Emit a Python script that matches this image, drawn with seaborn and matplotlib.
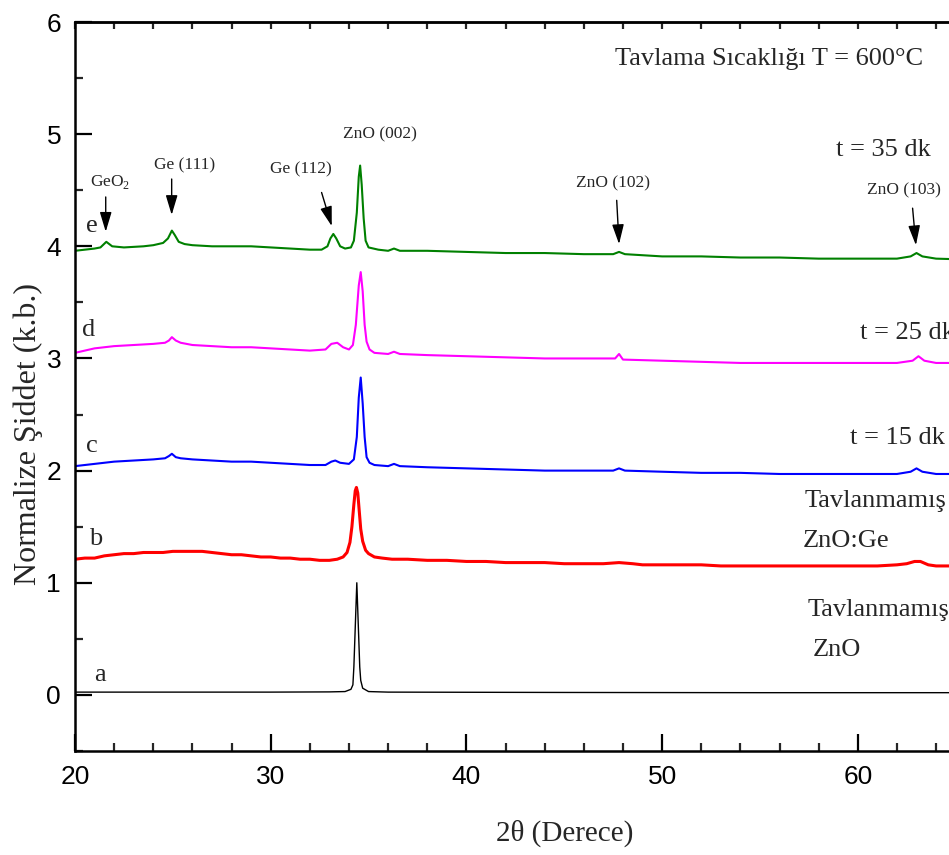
import matplotlib
matplotlib.use("Agg")
import matplotlib.pyplot as plt
import pandas as pd
import seaborn as sns
from matplotlib.ticker import MultipleLocator

# --- XRD patterns (normalized intensity, vertically offset) ---
# a: unannealed ZnO
tt_a = [20, 25, 30, 33, 33.8, 34.1, 34.2, 34.25, 34.32, 34.4, 34.48, 34.55, 34.6,
        34.7, 35.0, 36, 45, 55, 70]
int_a = [0.025, 0.025, 0.025, 0.027, 0.03, 0.05, 0.09, 0.25, 0.6, 1.0, 0.6, 0.25, 0.13,
         0.06, 0.03, 0.025, 0.022, 0.02, 0.02]

# b: unannealed ZnO:Ge
tt_b = [20, 20.5, 21, 21.5, 22, 22.5, 23, 23.5, 24, 24.5, 25, 25.5, 26, 26.5, 27, 27.5,
        28, 28.5, 29, 29.5, 30, 30.5, 31, 31.5, 32, 32.5, 33, 33.4, 33.7, 33.9, 34.05,
        34.15, 34.25, 34.32, 34.38, 34.45, 34.52, 34.6, 34.7, 34.85, 35.0, 35.3, 35.7,
        36.2, 37, 38, 39, 40, 41, 42, 43, 44, 45, 46, 47, 47.8, 48.5, 49, 50, 51, 52,
        53, 54, 55, 56, 57, 58, 59, 60, 61, 62, 62.5, 62.9, 63.2, 63.6, 64, 65, 67, 70]
int_b = [1.21, 1.22, 1.22, 1.24, 1.25, 1.26, 1.26, 1.27, 1.27, 1.27, 1.28, 1.28, 1.28,
         1.28, 1.27, 1.26, 1.25, 1.25, 1.24, 1.23, 1.23, 1.22, 1.22, 1.21, 1.21, 1.20,
         1.20, 1.21, 1.23, 1.27, 1.36, 1.50, 1.70, 1.82, 1.85, 1.80, 1.65, 1.48, 1.37,
         1.29, 1.26, 1.23, 1.22, 1.21, 1.21, 1.20, 1.20, 1.19, 1.19, 1.18, 1.18, 1.18,
         1.17, 1.17, 1.17, 1.18, 1.17, 1.16, 1.16, 1.16, 1.16, 1.15, 1.15, 1.15, 1.15,
         1.15, 1.15, 1.15, 1.15, 1.15, 1.16, 1.17, 1.19, 1.19, 1.16, 1.15, 1.15, 1.14, 1.14]

# c: annealed 15 min
tt_c = [20, 20.5, 21, 22, 23, 24, 24.6, 24.8, 24.95, 25.15, 25.4, 26, 27, 28, 29, 30,
        31, 32, 32.8, 33.1, 33.3, 33.55, 34.0, 34.25, 34.4, 34.5, 34.6, 34.7, 34.8,
        34.9, 35.05, 35.3, 36, 36.3, 36.6, 38, 40, 42, 44, 46, 47.5, 47.8, 48.1, 50,
        52, 54, 56, 58, 60, 62, 62.7, 63.0, 63.3, 64, 66, 70]
int_c = [2.04, 2.05, 2.06, 2.08, 2.09, 2.10, 2.11, 2.13, 2.15, 2.12, 2.11, 2.10, 2.09,
         2.08, 2.08, 2.07, 2.06, 2.05, 2.05, 2.08, 2.09, 2.07, 2.06, 2.10, 2.30, 2.65,
         2.83, 2.60, 2.30, 2.12, 2.07, 2.05, 2.04, 2.06, 2.04, 2.03, 2.02, 2.01, 2.00,
         2.00, 2.00, 2.02, 2.00, 1.99, 1.98, 1.98, 1.97, 1.97, 1.97, 1.97, 1.99, 2.02,
         1.99, 1.97, 1.97, 1.96]

# d: annealed 25 min
tt_d = [20, 20.5, 21, 22, 23, 24, 24.6, 24.8, 24.95, 25.15, 25.4, 26, 27, 28, 29, 30,
        31, 32, 32.8, 33.1, 33.4, 33.7, 34.0, 34.2, 34.35, 34.5, 34.6, 34.7, 34.8, 34.9,
        35.05, 35.3, 36, 36.3, 36.6, 38, 40, 42, 44, 46, 47.6, 47.8, 48.0, 50, 52, 54,
        56, 58, 60, 62, 62.8, 63.1, 63.4, 64, 66, 70]
int_d = [3.05, 3.07, 3.09, 3.11, 3.12, 3.13, 3.14, 3.16, 3.19, 3.16, 3.14, 3.12, 3.11,
         3.10, 3.10, 3.09, 3.08, 3.07, 3.08, 3.13, 3.14, 3.10, 3.08, 3.12, 3.30, 3.65,
         3.77, 3.60, 3.30, 3.15, 3.08, 3.05, 3.04, 3.06, 3.04, 3.03, 3.02, 3.01, 3.00,
         3.00, 3.00, 3.04, 2.99, 2.98, 2.97, 2.96, 2.96, 2.96, 2.96, 2.96, 2.98, 3.02,
         2.98, 2.96, 2.96, 2.95]

# e: annealed 35 min
tt_e = [20, 20.5, 21, 21.3, 21.6, 21.9, 22.5, 23.5, 24, 24.5, 24.75, 24.95, 25.1, 25.3,
        25.6, 26, 27, 28, 29, 30, 31, 32, 32.6, 32.9, 33.05, 33.2, 33.35, 33.55, 33.8,
        34.1, 34.25, 34.4, 34.5, 34.57, 34.65, 34.75, 34.85, 35.0, 35.5, 36, 36.3, 36.6,
        38, 40, 42, 44, 46, 47.5, 47.8, 48.1, 50, 52, 54, 56, 58, 60, 62, 62.7, 63.0,
        63.3, 64, 66, 70]
int_e = [3.96, 3.97, 3.98, 3.99, 4.04, 4.00, 3.99, 4.00, 4.01, 4.03, 4.07, 4.14, 4.10,
         4.04, 4.02, 4.01, 4.00, 4.00, 4.00, 3.99, 3.98, 3.97, 3.97, 4.00, 4.07, 4.11,
         4.07, 4.00, 3.98, 3.99, 4.05, 4.30, 4.62, 4.72, 4.55, 4.25, 4.05, 3.99, 3.97,
         3.96, 3.98, 3.96, 3.96, 3.95, 3.94, 3.94, 3.93, 3.93, 3.95, 3.93, 3.91, 3.91,
         3.90, 3.90, 3.89, 3.89, 3.89, 3.91, 3.94, 3.91, 3.89, 3.88, 3.87]

samples = ["a", "b", "c", "d", "e"]
colors = ["black", "#FF0000", "#0000FF", "#FF00FF", "#008000"]
widths = [1.0, 2.2, 1.5, 1.5, 1.5]

x_ticks = [20, 30, 40, 50, 60]

# side captions
cond_labels = ["t = 35 dk", "t = 25 dk", "t = 15 dk", "Tavlanmamış", "ZnO:Ge",
               "Tavlanmamış", "ZnO"]
peak_labels = [r"GeO$_\mathregular{2}$", "Ge (111)", "Ge (112)", "ZnO (002)",
               "ZnO (102)", "ZnO (103)"]

frames = []
for s, x, y in zip(samples, [tt_a, tt_b, tt_c, tt_d, tt_e],
                   [int_a, int_b, int_c, int_d, int_e]):
    frames.append(pd.DataFrame({"2theta": x, "I": y, "sample": s}))
df = pd.concat(frames, ignore_index=True)

sns.set_theme(style="ticks")
plt.rcParams["font.family"] = ["Liberation Sans", "DejaVu Sans"]
plt.rcParams["mathtext.fontset"] = "custom"
plt.rcParams["mathtext.rm"] = "Liberation Serif"

fig = plt.figure(figsize=(9.49, 8.55), dpi=100)
ax = fig.add_axes([75 / 949, 1 - 751 / 855, (1053.5 - 75) / 949, (751 - 22) / 855])

for s, c, w in zip(samples, colors, widths):
    sns.lineplot(data=df[df["sample"] == s], x="2theta", y="I", color=c, lw=w,
                 ax=ax, estimator=None, sort=True, legend=False)

ax.set_xlim(20, 70)
ax.set_ylim(-0.5, 6)
ax.set_xticks(x_ticks)
ax.xaxis.set_minor_locator(MultipleLocator(2))
ax.yaxis.set_major_locator(MultipleLocator(1))
ax.yaxis.set_minor_locator(MultipleLocator(0.5))
ax.tick_params(which="major", direction="in", length=12, width=1.6, labelsize=19,
               colors="black", pad=10)
ax.tick_params(which="minor", direction="in", length=6, width=1.6)
ax.tick_params(axis="x", which="both", top=False)
for sp in ax.spines.values():
    sp.set_linewidth(1.8)
    sp.set_color("black")

top = ax.secondary_xaxis("top")
top.xaxis.set_major_locator(MultipleLocator(2))
top.tick_params(direction="in", length=5, width=1.6, labeltop=False)
top.spines["top"].set_linewidth(1.8)

serif = ["Liberation Serif", "DejaVu Serif"]
ax.set_xlabel("2θ (Derece)", family=serif, fontsize=21, labelpad=22)
ax.set_ylabel("Normalize Şiddet (k.b.)", family=serif, fontsize=23)
ax.yaxis.set_label_coords(-0.033, 0.435)

# curve letters
for s, (x, y) in zip(samples, [(21.28, 0.18), (21.07, 1.39), (20.87, 2.22),
                               (20.7, 3.25), (20.87, 4.18)]):
    ax.text(x, y, s, family=serif, fontsize=19, ha="center", va="center")

ax.text(47.6, 5.67, "Tavlama Sıcaklığı T = 600°C", family=serif, fontsize=19,
        ha="left", va="center")
for lbl, (x, y) in zip(cond_labels, [(58.9, 4.86), (60.1, 3.23), (59.6, 2.29),
                                     (57.3, 1.73), (57.2, 1.37), (57.45, 0.76),
                                     (57.7, 0.40)]):
    ax.text(x, y, lbl, family=serif, fontsize=19, ha="left", va="center")

# peak assignments with arrows
peak_text = [(21.8, 4.57), (25.6, 4.72), (31.55, 4.69), (35.6, 5.0),
             (47.47, 4.56), (62.36, 4.5)]
arrows = [((21.57, 4.44), (21.57, 4.13)), ((24.94, 4.60), (24.94, 4.28)),
          ((32.6, 4.48), (33.12, 4.18)), None,
          ((47.68, 4.41), (47.8, 4.02)), ((62.8, 4.34), (62.97, 4.01))]
for lbl, (x, y), arr in zip(peak_labels, peak_text, arrows):
    ax.text(x, y, lbl, family=serif, fontsize=12.5, ha="center", va="center")
    if arr is not None:
        ax.annotate("", xy=arr[1], xytext=arr[0],
                    arrowprops=dict(arrowstyle="-|>,head_length=1.0,head_width=0.3",
                                    color="black", lw=1.0, shrinkA=0, shrinkB=0))

fig.savefig("out.png", dpi=100)
